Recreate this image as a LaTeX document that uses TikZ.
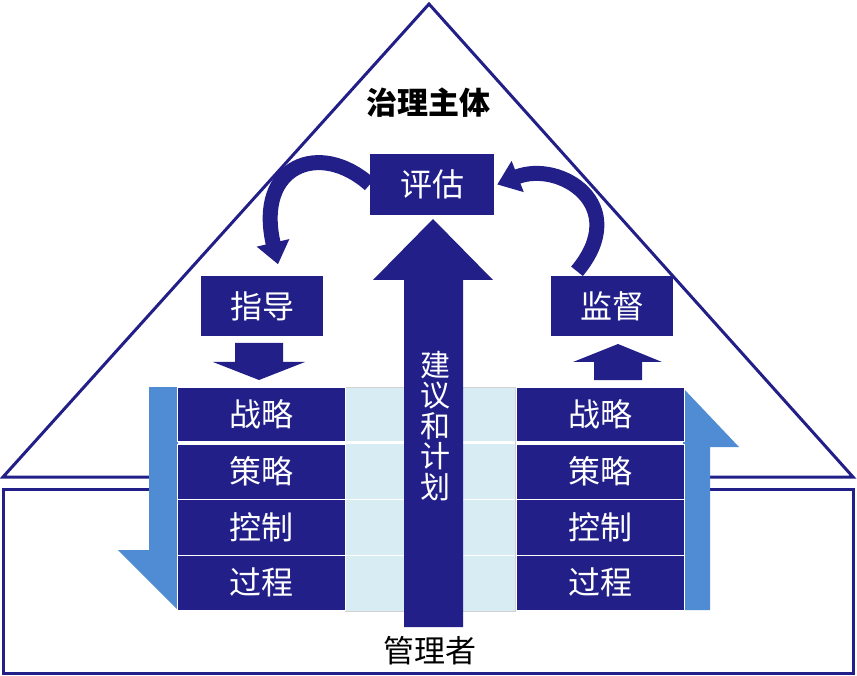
\documentclass[tikz,border=0pt]{standalone}
\usepackage{fontspec}
\setmainfont{Noto Sans CJK SC}
\usetikzlibrary{arrows.meta}
\definecolor{navy}{RGB}{34,31,137}
\definecolor{sideblue}{RGB}{80,140,212}
\definecolor{paleblue}{RGB}{216,236,244}
\tikzset{
  box/.style={fill=navy,text=white,inner sep=0pt,font=\fontsize{32}{34}\selectfont},
  layer/.style={box,draw=white,line width=1pt,minimum width=168pt},
  frame/.style={draw=navy,line width=3pt},
  bendarrow/.style={draw=navy,line width=15pt,-{Triangle[width=32pt,length=22pt]}},
}

\begin{document}
\begin{tikzpicture}[x=1pt,y=-1pt]
	\useasboundingbox (0,0) rectangle (857,676);
	% house
	\draw [frame] (3,477) -- (429,4) -- (853,477) -- cycle;
	\draw [frame] (3,489) rectangle (853,673);
	% band between the two columns
	\filldraw [fill=paleblue,draw=gray!35] (345,387) rectangle (515,611);
	\draw [white,line width=2.5pt] (345,442.5) -- (515,442.5);
	\draw [white,line width=1pt] (345,499) -- (515,499) (345,555) -- (515,555);
	% side arrows
	\fill [sideblue] (149,387) -- (149,550) -- (118,550) -- (178,610) -- (178,387) -- cycle;
	\fill [sideblue] (683,610) -- (683,388) -- (739,447) -- (710,447) -- (710,610) -- cycle;
	% layers
	\node (L1) at (261,414) [layer,minimum height=54pt] {战略};
	  \node (L2) at (261,471.5) [layer,minimum height=55pt] {策略};
	  \node (L3) at (261,527) [layer,minimum height=56pt] {控制};
	  \node (L4) at (261,582.5) [layer,minimum height=55pt] {过程};
	  \node (R1) at (600,414) [layer,minimum height=54pt] {战略};
	  \node (R2) at (600,471.5) [layer,minimum height=55pt] {策略};
	  \node (R3) at (600,527) [layer,minimum height=56pt] {控制};
	  \node (R4) at (600,582.5) [layer,minimum height=55pt] {过程};
	% big arrow
	\fill [navy] (404,627) -- (404,280) -- (373,280) -- (433,219) -- (493,280) -- (463,280) -- (463,627) -- cycle;
	\node (advice) at (435,426) [text=white,align=center,font=\fontsize{30}{30.5}\selectfont] {建\\议\\和\\计\\划};
	% governing boxes
	\node (pinggu) at (432,184.5) [box,minimum width=124pt,minimum height=61pt] {评估};
	  \node (zhidao) at (262,306.5) [box,minimum width=122pt,minimum height=60pt] {指导};
	  \node (jiandu) at (612,306.5) [box,minimum width=122pt,minimum height=60pt] {监督};
	\fill [navy] (235,343) -- (283,343) -- (283,362) -- (305,362) -- (259,380) -- (213,362) -- (235,362) -- cycle;
	\fill [navy] (594,380) -- (594,362) -- (573,362) -- (618,344) -- (662,362) -- (642,362) -- (642,380) -- cycle;
	\draw [bendarrow] (pinggu.west) ..controls (320,140) and (255,165) .. ([xshift=16pt,yshift=12pt]zhidao.north);
	\draw [bendarrow] ([xshift=-35pt,yshift=5pt]jiandu.north) ..controls (632,205) and (560,160) .. ([xshift=3pt]pinggu.east);
	% titles
	\node (zhuti) at (428,103) [font=\bfseries\fontsize{31}{33}\selectfont] {治理主体};
	\node (guanli) at (430,651) [font=\fontsize{31}{33}\selectfont] {管理者};
\end{tikzpicture}
\end{document}
